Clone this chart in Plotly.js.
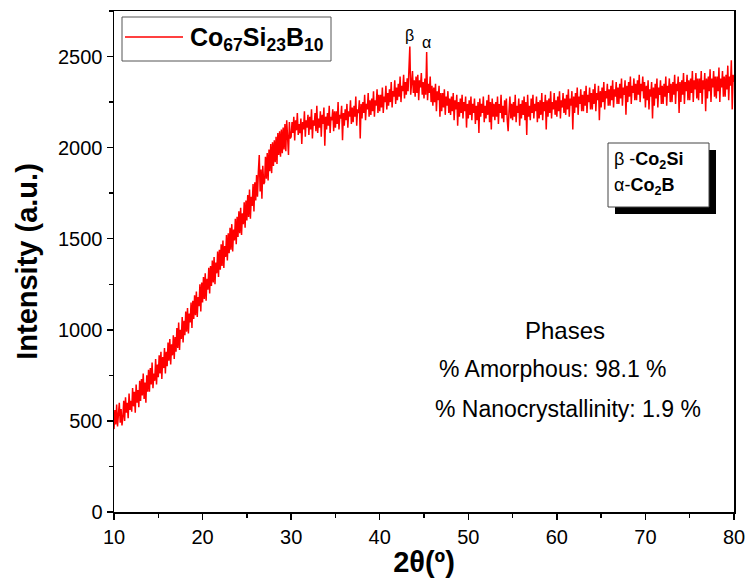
<!DOCTYPE html>
<html>
<head>
<meta charset="utf-8">
<script src="https://cdn.plot.ly/plotly-3.0.1.min.js"></script>
<style>html,body{margin:0;padding:0;background:#fff}#chart{width:746px;height:580px}</style>
</head>
<body>
<div id="chart"></div>
<script>
// 2θ scan grid
const twoThetaStart = 10;
const twoThetaStep = 0.1;

// Intensity (a.u.), 10 points per degree from 10.0 to 80.0
const intensity = [
455,560,480,590,470,540,600,490,565,475,
520,610,500,630,545,600,515,650,560,610,
550,680,580,660,545,700,600,670,575,720,
610,730,640,760,620,710,600,750,660,780,
660,790,700,820,680,760,720,840,700,810,
740,860,760,880,730,850,790,900,760,880,
800,930,830,950,810,920,860,970,840,960,
880,1010,900,1040,890,1000,950,1070,930,1050,
970,1100,990,1120,980,1090,1040,1150,1010,1160,
1060,1190,1080,1210,1070,1180,1130,1250,1100,1260,
1150,1290,1170,1310,1160,1280,1220,1340,1200,1350,
1240,1380,1260,1400,1250,1370,1310,1430,1290,1440,
1330,1470,1350,1490,1340,1460,1400,1520,1380,1530,
1420,1560,1440,1580,1430,1550,1490,1610,1470,1620,
1510,1650,1530,1670,1520,1640,1580,1700,1560,1710,
1600,1740,1620,1770,1610,1730,1680,1800,1650,1810,
1710,1850,1730,1870,1960,1760,1880,1720,1900,1800,
1810,1950,1830,1970,1820,1990,1870,2020,1860,2030,
1900,2040,1920,2060,1910,2080,1960,2090,1950,2100,
1970,2110,1990,2130,1980,2150,2030,1960,2140,2050,
2060,2140,2080,2170,2040,2150,2095,2190,2070,2130,
2080,2160,2020,2140,2100,2200,2060,2150,2110,2180,
2070,2170,2100,2210,2050,2150,2120,2190,2090,2230,
2080,2160,2110,2200,2060,2180,2130,2220,2010,2170,
2100,2190,2120,2230,2080,2170,2150,2210,2090,2200,
2110,2200,2130,2250,2100,2180,2160,2230,2040,2190,
2120,2210,2150,2240,2110,2200,2170,2260,2130,2220,
2140,2230,2170,2280,2120,2210,2190,2260,2050,2240,
2160,2250,2190,2290,2150,2240,2210,2300,2170,2260,
2180,2270,2200,2310,2170,2260,2230,2320,2190,2290,
2200,2290,2220,2330,2190,2280,2250,2340,2210,2300,
2230,2320,2250,2360,2220,2310,2280,2370,2240,2330,
2260,2350,2280,2390,2250,2340,2310,2400,2270,2360,
2290,2380,2310,2410,2555,2290,2360,2420,2300,2370,
2280,2390,2300,2400,2260,2370,2330,2410,2290,2360,
2270,2380,2290,2525,2260,2350,2300,2390,2250,2340,
2230,2330,2250,2350,2200,2310,2260,2340,2170,2300,
2200,2300,2220,2320,2180,2280,2230,2310,2190,2270,
2180,2280,2200,2300,2150,2260,2210,2290,2120,2250,
2170,2270,2190,2290,2160,2250,2200,2280,2110,2240,
2160,2260,2180,2280,2150,2240,2190,2270,2130,2230,
2150,2250,2080,2270,2170,2240,2190,2280,2140,2230,
2160,2260,2180,2290,2140,2250,2100,2270,2170,2240,
2150,2250,2170,2280,2130,2240,2190,2290,2160,2230,
2140,2260,2180,2270,2150,2090,2200,2280,2160,2240,
2150,2250,2170,2290,2140,2230,2190,2270,2120,2240,
2160,2260,2180,2280,2150,2250,2070,2290,2170,2230,
2150,2270,2190,2290,2160,2240,2200,2280,2140,2250,
2160,2260,2180,2300,2150,2250,2200,2290,2100,2260,
2170,2270,2190,2310,2160,2250,2210,2300,2180,2260,
2170,2280,2200,2310,2160,2260,2220,2300,2190,2270,
2180,2290,2210,2320,2170,2270,2230,2310,2100,2280,
2190,2300,2220,2330,2180,2280,2240,2320,2200,2290,
2200,2310,2230,2340,2190,2290,2250,2330,2210,2300,
2210,2320,2240,2350,2200,2300,2260,2340,2150,2310,
2220,2330,2250,2360,2210,2310,2270,2350,2230,2320,
2230,2340,2260,2370,2220,2320,2280,2360,2240,2330,
2240,2350,2270,2380,2230,2330,2290,2370,2180,2340,
2250,2360,2280,2390,2240,2340,2300,2380,2260,2350,
2260,2370,2290,2400,2250,2350,2310,2390,2270,2360,
2220,2340,2260,2370,2210,2320,2280,2360,2160,2330,
2230,2350,2270,2380,2220,2330,2290,2370,2240,2340,
2240,2350,2280,2390,2230,2340,2300,2380,2250,2350,
2250,2360,2290,2400,2240,2350,2310,2390,2190,2360,
2250,2370,2290,2410,2240,2360,2310,2400,2260,2370,
2260,2380,2300,2420,2250,2370,2320,2410,2270,2380,
2260,2380,2300,2420,2240,2370,2320,2410,2200,2380,
2270,2390,2310,2430,2250,2380,2330,2420,2280,2390,
2270,2390,2310,2440,2250,2380,2330,2420,2280,2390,
2280,2400,2320,2450,2260,2390,2340,2480,2210,2400,
2360
];

const seriesName = 'Co<sub>67</sub>Si<sub>23</sub>B<sub>10</sub>';
const xTickValues = [10, 20, 30, 40, 50, 60, 70, 80];
const yTickValues = [0, 500, 1000, 1500, 2000, 2500];
const phaseLines = ['β -<b>Co<sub>2</sub>Si</b>', 'α-<b>Co<sub>2</sub>B</b>'];
const peakLabels = ['β', 'α'];
const peakPositions = [43.4, 45.3];
const peakLabelHeights = [2615, 2575];
const textLines = ['Phases', '% Amorphous: 98.1 %', '% Nanocrystallinity: 1.9 %'];

const FONT = 'Liberation Sans, Arial, sans-serif';

// paper helpers (plot area is 114..734 px horizontally, 11..512 px vertically)
const PL = 114, PR = 734, PT = 11, PB = 512;
const px = v => (v - PL) / (PR - PL);
const py = v => (PB - v) / (PB - PT);

const trace = {
  type: 'scatter', mode: 'lines',
  x0: twoThetaStart, dx: twoThetaStep,
  y: intensity,
  name: seriesName,
  line: {color: '#ff0000', width: 1.5},
  showlegend: false, hoverinfo: 'x+y'
};

const shapes = [
  // legend box
  {type: 'rect', xref: 'paper', yref: 'paper', x0: px(122), x1: px(331), y0: py(61), y1: py(17),
   line: {color: '#555', width: 1}, fillcolor: '#fff'},
  {type: 'line', xref: 'paper', yref: 'paper', x0: px(125), x1: px(183), y0: py(37), y1: py(37),
   line: {color: '#ff0000', width: 1.5}},
  // phases box shadow + box
  {type: 'rect', xref: 'paper', yref: 'paper', x0: px(615), x1: px(716), y0: py(214), y1: py(150),
   line: {color: '#000', width: 0}, fillcolor: '#000'},
  {type: 'rect', xref: 'paper', yref: 'paper', x0: px(608), x1: px(709), y0: py(207), y1: py(143),
   line: {color: '#444', width: 1}, fillcolor: '#fff'}
];

const annotations = [
  {xref: 'paper', yref: 'paper', x: px(188), y: py(39), xanchor: 'left', yanchor: 'middle',
   text: '<b>' + seriesName + '</b>', showarrow: false, font: {family: FONT, size: 25, color: '#000'}},
  {xref: 'paper', yref: 'paper', x: px(612), y: py(160), xanchor: 'left', yanchor: 'middle',
   text: phaseLines[0], showarrow: false, font: {family: FONT, size: 18, color: '#000'}},
  {xref: 'paper', yref: 'paper', x: px(612), y: py(186), xanchor: 'left', yanchor: 'middle',
   text: phaseLines[1], showarrow: false, font: {family: FONT, size: 18, color: '#000'}},
  {x: 60.9, y: 994, xanchor: 'center', yanchor: 'middle', text: textLines[0], showarrow: false,
   font: {family: FONT, size: 24, color: '#000'}},
  {x: 46.5, y: 786, xanchor: 'left', yanchor: 'middle', text: textLines[1], showarrow: false,
   font: {family: FONT, size: 23, color: '#000'}},
  {x: 46.0, y: 566, xanchor: 'left', yanchor: 'middle', text: textLines[2], showarrow: false,
   font: {family: FONT, size: 23, color: '#000'}}
];
for (let i = 0; i < peakLabels.length; i++) {
  annotations.push({x: peakPositions[i], y: peakLabelHeights[i], xanchor: 'center', yanchor: 'middle',
    text: peakLabels[i], showarrow: false, font: {family: FONT, size: 16, color: '#000'}});
}

const layout = {
  width: 746, height: 580,
  margin: {l: PL, r: 746 - PR, t: PT, b: 580 - PB},
  paper_bgcolor: '#fff', plot_bgcolor: '#fff',
  font: {family: FONT, color: '#000'},
  showlegend: false,
  xaxis: {
    range: [10, 80], tickvals: xTickValues, ticks: 'outside', ticklen: 6, tickwidth: 1.5, tickcolor: '#000',
    minor: {dtick: 5, ticks: 'outside', ticklen: 4, tickwidth: 1.5, tickcolor: '#000', showgrid: false},
    showline: true, linecolor: '#000', linewidth: 1.5, mirror: true, showgrid: false, zeroline: false,
    tickfont: {family: FONT, size: 20, color: '#000'},
    title: {text: '<b>2θ(º)</b>', font: {family: FONT, size: 29, color: '#000'}, standoff: 5}
  },
  yaxis: {
    range: [0, 2750], tickvals: yTickValues, ticks: 'outside', ticklen: 6, tickwidth: 1.5, tickcolor: '#000',
    minor: {dtick: 250, ticks: 'outside', ticklen: 4, tickwidth: 1.5, tickcolor: '#000', showgrid: false},
    showline: true, linecolor: '#000', linewidth: 1.5, mirror: true, showgrid: false, zeroline: false,
    tickfont: {family: FONT, size: 20, color: '#000'},
    title: {text: '<b>Intensity (a.u.)</b>', font: {family: FONT, size: 29, color: '#000'}, standoff: 12}
  },
  shapes: shapes,
  annotations: annotations
};

Plotly.newPlot('chart', [trace], layout, {displayModeBar: false, staticPlot: true});
</script>
</body>
</html>
